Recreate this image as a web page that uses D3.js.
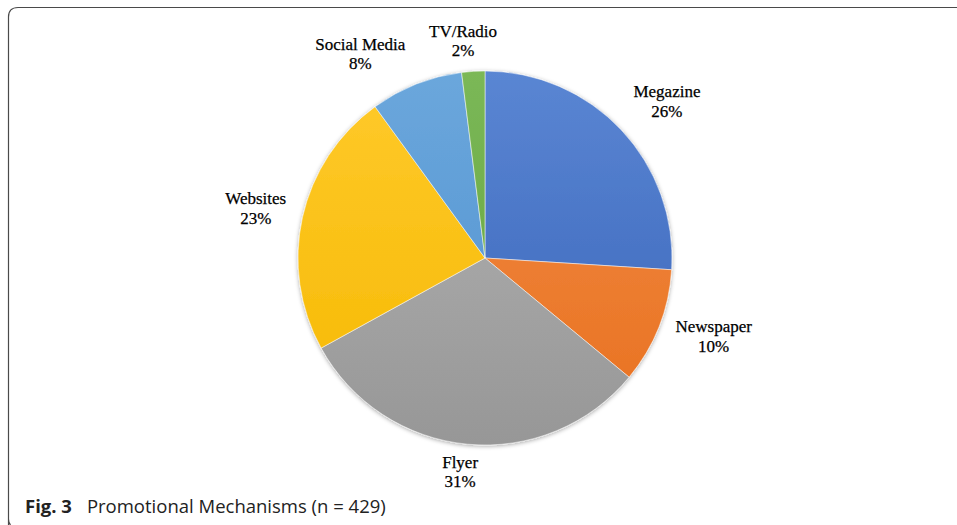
<!DOCTYPE html>
<html><head><meta charset="utf-8">
<script src="https://cdn.jsdelivr.net/npm/d3@7"></script>
<style>html,body{margin:0;padding:0;background:#fff;}svg{display:block;}</style>
</head><body>
<svg id="chart" width="957" height="525"></svg>
<script>
const categories = ["Megazine", "Newspaper", "Flyer", "Websites", "Social Media", "TV/Radio"];
const values = [26, 10, 31, 23, 8, 2];
const labels = ["26%", "10%", "31%", "23%", "8%", "2%"];
const colorsTop = ["#5a86d3", "#f28c45", "#b4b4b4", "#ffca2c", "#6ba7dc", "#7bb857"];
const colorsBottom = ["#3862b8", "#e8701f", "#979797", "#f5b800", "#4f90cf", "#62a13c"];
const captionBold = "Fig. 3";
const captionText = "Promotional Mechanisms (n\u00a0=\u00a0429)";

const svg = d3.select("#chart");
const W = 957, H = 525;
const cx = 485, cy = 258, R = 187;

// layout tweaks for label placement (pixel nudges, as in the original manual layout)
const labelNudge = {
  "Megazine": [8, 7], "Newspaper": [2, -11], "Flyer": [-4, -7],
  "Websites": [0, 2], "Social Media": [-38, 15], "TV/Radio": [-8, 5]
};

// frame
svg.append("path")
  .attr("d", `M8.5,${H + 2} L8.5,${H - 6} Q8.5,${H-2} 10.5,${H} M8.5,${H-6} L8.5,17 Q8.5,7.5 18,7.5 L${W+2},7.5`)
  .attr("fill", "none").attr("stroke", "#4a4a4a").attr("stroke-width", 1.2);

const defs = svg.append("defs");
const f = defs.append("filter").attr("id", "shadow").attr("x", "-10%").attr("y", "-10%").attr("width", "120%").attr("height", "120%");
f.append("feDropShadow").attr("dx", 0).attr("dy", 1).attr("stdDeviation", 2.2).attr("flood-color", "#000").attr("flood-opacity", 0.35);

categories.forEach((c, i) => {
  const g = defs.append("linearGradient").attr("id", "grad" + i)
    .attr("gradientUnits", "userSpaceOnUse")
    .attr("x1", 0).attr("y1", -R).attr("x2", 0).attr("y2", R);
  g.append("stop").attr("offset", "0%").attr("stop-color", colorsTop[i]);
  g.append("stop").attr("offset", "100%").attr("stop-color", colorsBottom[i]);
});

const pie = d3.pie().sort(null).value(d => d)(values);
const arc = d3.arc().innerRadius(0).outerRadius(R);

const g = svg.append("g").attr("transform", `translate(${cx},${cy})`);
g.append("g").attr("filter", "url(#shadow)")
  .selectAll("path").data(pie).join("path")
  .attr("d", arc)
  .attr("fill", (d, i) => `url(#grad${i})`)
  .attr("stroke", "#fff").attr("stroke-width", 0.5);

// labels
const fs = 17, lh = 19.5;
const gap = 14;
pie.forEach((d, i) => {
  const t = g.append("text")
    .attr("font-family", "'Liberation Serif', 'Times New Roman', serif")
    .attr("font-size", fs).attr("fill", "#000").attr("stroke", "#000").attr("stroke-width", 0.25)
    .attr("text-anchor", "middle");
  t.append("tspan").attr("x", 0).attr("dy", 0).text(categories[i]);
  t.append("tspan").attr("x", 0).attr("dy", lh).text(labels[i]);
  const bb = t.node().getBBox();
  const hw = bb.width / 2, hh = bb.height / 2;
  const a = (d.startAngle + d.endAngle) / 2;
  const s = Math.sin(a), c = -Math.cos(a);
  const r = R + gap + Math.abs(s) * hw + Math.abs(c) * hh;
  const n = labelNudge[categories[i]] || [0, 0];
  const px = s * r + n[0], py = c * r + n[1];
  const bcy = bb.y + bb.height / 2;
  t.attr("transform", `translate(${px},${py - bcy})`);
});

// caption
const cap = svg.append("text").attr("x", 25).attr("y", 513)
  .attr("font-family", "'Open Sans', 'Noto Sans', sans-serif").attr("font-size", 18.5).attr("fill", "#222");
cap.append("tspan").attr("font-weight", "bold").text(captionBold);
cap.append("tspan").attr("dx", 15).text(captionText);
</script>
</body></html>
